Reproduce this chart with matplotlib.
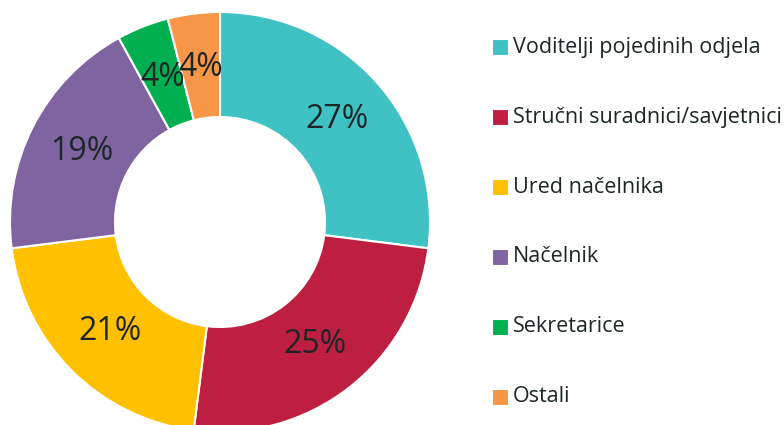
import matplotlib
matplotlib.use('Agg')
import matplotlib.pyplot as plt

# data ---------------------------------------------------------------
labels = ['Voditelji pojedinih odjela', 'Stručni suradnici/savjetnici',
          'Ured načelnika', 'Načelnik', 'Sekretarice', 'Ostali']
shares = [27, 25, 21, 19, 4, 4]
colors = ['#40C1C3', '#BE1E3F', '#FFC000', '#8064A2', '#00B050', '#F79646']

plt.rcParams['font.family'] = ['Open Sans', 'DejaVu Sans']
text_color = '#1c2626'

fig = plt.figure(figsize=(7.84, 4.25), dpi=100)
ax = fig.add_axes([0, 0, 1, 1])

# donut, pixel coordinates (origin bottom-left)
wedges, _, autotexts = ax.pie(
    shares, colors=colors, startangle=90, counterclock=False,
    radius=210, center=(220, 203),
    autopct='%d%%', pctdistance=0.74,
    wedgeprops=dict(width=105, edgecolor='white', linewidth=1.5),
    textprops=dict(fontsize=23, color=text_color))

ax.set_xlim(0, 784)
ax.set_ylim(0, 425)
ax.set_aspect('equal')
ax.axis('off')

# legend -------------------------------------------------------------
for i, (lab, col) in enumerate(zip(labels, colors)):
    y = 425 - (47 + i * 70)
    ax.scatter([500], [y], marker='s', s=120, color=col,
               edgecolors='white', linewidths=0.8, zorder=3)
    ax.text(513, y, lab, fontsize=15.5, color=text_color,
            va='center', ha='left')

plt.savefig('out.png', dpi=100)
